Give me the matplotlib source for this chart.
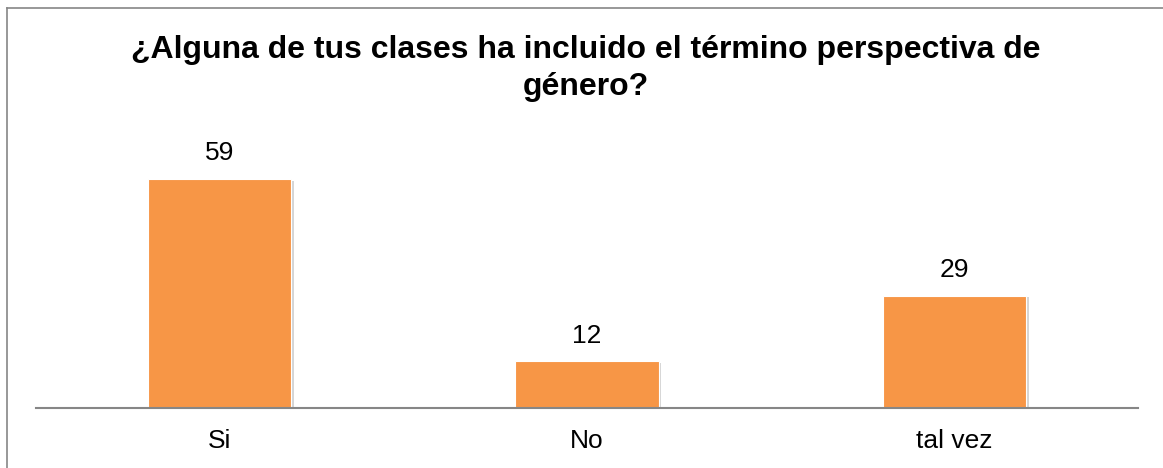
import matplotlib.pyplot as plt
import matplotlib.patheffects as pe
from matplotlib.lines import Line2D

plt.rcParams['font.family'] = ['Liberation Sans', 'DejaVu Sans']

categories = ['Si', 'No', 'tal vez']
values = [59, 12, 29]
title = '¿Alguna de tus clases ha incluido el término perspectiva de\ngénero?'

fig = plt.figure(figsize=(11.63, 4.68), dpi=100)
ax = fig.add_axes([0.031, 0.1282, 0.9475, 0.58])

bars = ax.bar(range(len(categories)), values, width=0.39, color='#F79646',
              edgecolor='white', linewidth=0.8, zorder=2)
for b in bars:
    b.set_path_effects([pe.SimplePatchShadow(offset=(2, -1), shadow_rgbFace='#888888', alpha=0.35),
                        pe.Normal()])

for i, v in enumerate(values):
    ax.annotate(str(v), (i, v), xytext=(0, 10), textcoords='offset points',
                ha='center', va='bottom', fontsize=19, color='#000000')

ax.set_xlim(-0.5, len(categories) - 0.5)
ax.set_ylim(0, 70)
ax.set_xticks(range(len(categories)))
ax.set_xticklabels(categories, fontsize=19)
ax.tick_params(axis='x', length=0, pad=15)
ax.set_yticks([])
for s in ['left', 'right', 'top']:
    ax.spines[s].set_visible(False)
ax.spines['bottom'].set_color('#868686')
ax.spines['bottom'].set_linewidth(1.5)

fig.text(0.504, 0.925, title, ha='center', va='top', fontsize=23,
         fontweight='bold', linespacing=1.32)

# outer chart frame (left and top edges visible)
fig.add_artist(Line2D([0.006, 0.006], [0, 0.983], color='#868686', lw=1.2))
fig.add_artist(Line2D([0.006, 1.0], [0.983, 0.983], color='#868686', lw=1.2))

plt.savefig('out.png', dpi=100)
